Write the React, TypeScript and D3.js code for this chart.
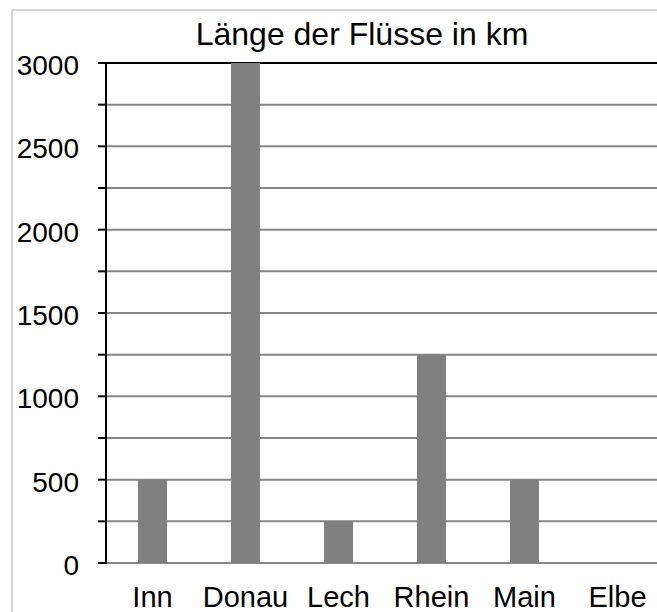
import React from "react";
import * as d3 from "d3";

const title = "Länge der Flüsse in km";
const categories = ["Inn", "Donau", "Lech", "Rhein", "Main", "Elbe"];
const values = [500, 3000, 250, 1250, 500, 0];
const yTickLabels = [0, 500, 1000, 1500, 2000, 2500, 3000];
const gridValues = [0, 250, 500, 750, 1000, 1250, 1500, 1750, 2000, 2250, 2500, 2750, 3000];

export default function App() {
  const W = 657;
  const H = 612;
  const left = 106;
  const right = 664;
  const top = 63;
  const bottom = 563;

  const x = d3
    .scaleBand<string>()
    .domain(categories)
    .range([left, right])
    .paddingInner(0.688)
    .paddingOuter(0.344);
  const y = d3.scaleLinear().domain([0, 3000]).range([bottom, top]);

  const font = "Arial, 'Liberation Sans', sans-serif";

  return (
    <svg
      width={W}
      height={H}
      style={{ position: "absolute", left: 0, top: 0, background: "#fff" }}
    >
      <rect x={0} y={0} width={W} height={H} fill="#fff" />
      {/* outer border */}
      <line x1={12} y1={10} x2={W} y2={10} stroke="#d4d4d4" strokeWidth={2} />
      <line x1={12} y1={10} x2={12} y2={H} stroke="#d4d4d4" strokeWidth={2} />

      <text
        x={362}
        y={45}
        textAnchor="middle"
        fontFamily={font}
        fontSize={32}
        fill="#000"
      >
        {title}
      </text>

      {/* gridlines */}
      {gridValues.map((v) => (
        <line
          key={"g" + v}
          x1={left}
          x2={W}
          y1={y(v)}
          y2={y(v)}
          stroke={v === 3000 ? "#000" : "#868686"}
          strokeWidth={2}
        />
      ))}

      {/* bars */}
      {categories.map((c, i) =>
        values[i] > 0 ? (
          <rect
            key={c}
            x={x(c)}
            y={y(values[i])}
            width={x.bandwidth()}
            height={y(0) - y(values[i])}
            fill="#808080"
          />
        ) : null
      )}

      {/* y axis */}
      <line x1={left} x2={left} y1={top - 1} y2={bottom + 1} stroke="#000" strokeWidth={2} />
      {gridValues.map((v) => (
        <line
          key={"t" + v}
          x1={left - 8}
          x2={left}
          y1={y(v)}
          y2={y(v)}
          stroke="#000"
          strokeWidth={2}
        />
      ))}
      {yTickLabels.map((v) => (
        <text
          key={"l" + v}
          x={79}
          y={y(v) + 12}
          textAnchor="end"
          fontFamily={font}
          fontSize={28}
          fill="#000"
        >
          {v}
        </text>
      ))}

      {/* category labels */}
      {categories.map((c) => (
        <text
          key={"c" + c}
          x={(x(c) as number) + x.bandwidth() / 2}
          y={607}
          textAnchor="middle"
          fontFamily={font}
          fontSize={29}
          fill="#000"
        >
          {c}
        </text>
      ))}
    </svg>
  );
}
